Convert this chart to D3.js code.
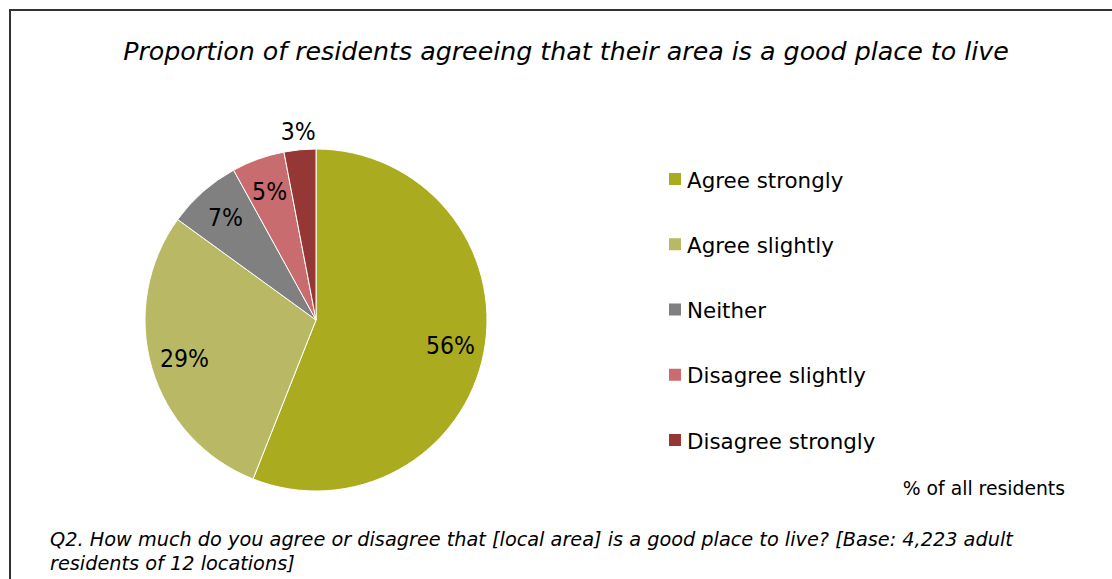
<!DOCTYPE html>
<html>
<head>
<meta charset="utf-8">
<script src="https://cdn.jsdelivr.net/npm/d3@7"></script>
<style>
  html, body { margin: 0; padding: 0; background: #fff; }
  svg { display: block; }
  text { font-family: "DejaVu Sans", sans-serif; fill: #000; }
  text.pct { font-family: "Liberation Sans Narrow", "DejaVu Sans Condensed", sans-serif; font-stretch: condensed; }
</style>
</head>
<body>
<svg id="chart" width="1112" height="579"></svg>
<script>
// Survey response categories and their share of residents (%)
const categories = ["Agree strongly", "Agree slightly", "Neither", "Disagree slightly", "Disagree strongly"];
const shares = [56, 29, 7, 5, 3];
const sliceColors = ["#ABAB1F", "#B9B965", "#808080", "#C96C6F", "#953735"];

const titleText = "Proportion of residents agreeing that their area is a good place to live";
const unitNote = "% of all residents";
const footnoteLines = [
  "Q2. How much do you agree or disagree that [local area] is a good place to live? [Base: 4,223 adult",
  "residents of 12 locations]"
];

const W = 1112, H = 579;
const svg = d3.select("#chart");

// frame around the chart area
svg.append("rect")
  .attr("x", 10).attr("y", 10)
  .attr("width", W + 10).attr("height", H + 10)
  .attr("fill", "#fff")
  .attr("stroke", "#333").attr("stroke-width", 2);

svg.append("text")
  .attr("x", 566).attr("y", 60)
  .attr("text-anchor", "middle")
  .style("font-size", "25.3px").style("font-style", "italic")
  .text(titleText);

// pie
const cx = 316, cy = 320, R = 171;
const data = categories.map((c, i) => ({ category: c, value: shares[i] }));
const color = d3.scaleOrdinal().domain(categories).range(sliceColors);
const pie = d3.pie().value(d => d.value).sort(null);
const arcs = pie(data);
const arc = d3.arc().innerRadius(0).outerRadius(R);
const labelArc = d3.arc().innerRadius(137).outerRadius(137);
const outerLabelArc = d3.arc().innerRadius(189).outerRadius(189);

const g = svg.append("g").attr("transform", `translate(${cx},${cy})`);
g.selectAll("path.slice")
  .data(arcs)
  .join("path")
  .attr("class", "slice")
  .attr("d", arc)
  .attr("fill", d => color(d.data.category))
  .attr("stroke", "#fff").attr("stroke-width", 1);

// small slices that cannot hold their label get it outside the pie
g.selectAll("text.pct")
  .data(arcs)
  .join("text")
  .attr("class", "pct")
  .attr("transform", d => {
    const p = (d.endAngle - d.startAngle) < 0.25 ? outerLabelArc.centroid(d) : labelArc.centroid(d);
    return `translate(${p[0]},${p[1]})`;
  })
  .attr("text-anchor", "middle").attr("dominant-baseline", "central")
  .style("font-size", "24.5px")
  .text(d => d.data.value + "%");

// legend
const legendY = d3.scalePoint().domain(categories).range([180, 441]);
const lg = svg.append("g");
const items = lg.selectAll("g").data(categories).join("g")
  .attr("transform", d => `translate(669,${legendY(d)})`);
items.append("rect")
  .attr("x", 0).attr("y", -7).attr("width", 12).attr("height", 12)
  .attr("fill", d => color(d));
items.append("text")
  .attr("x", 18).attr("y", 0)
  .attr("dominant-baseline", "central")
  .style("font-size", "21.4px")
  .text(d => d);

svg.append("text")
  .attr("x", 1065).attr("y", 488)
  .attr("text-anchor", "end").attr("dominant-baseline", "central")
  .style("font-size", "18.8px")
  .text(unitNote);

svg.selectAll("text.foot")
  .data(footnoteLines)
  .join("text")
  .attr("class", "foot")
  .attr("x", 50).attr("y", (d, i) => 546 + i * 24)
  .style("font-size", "19.3px").style("font-style", "italic")
  .text(d => d);
</script>
</body>
</html>
